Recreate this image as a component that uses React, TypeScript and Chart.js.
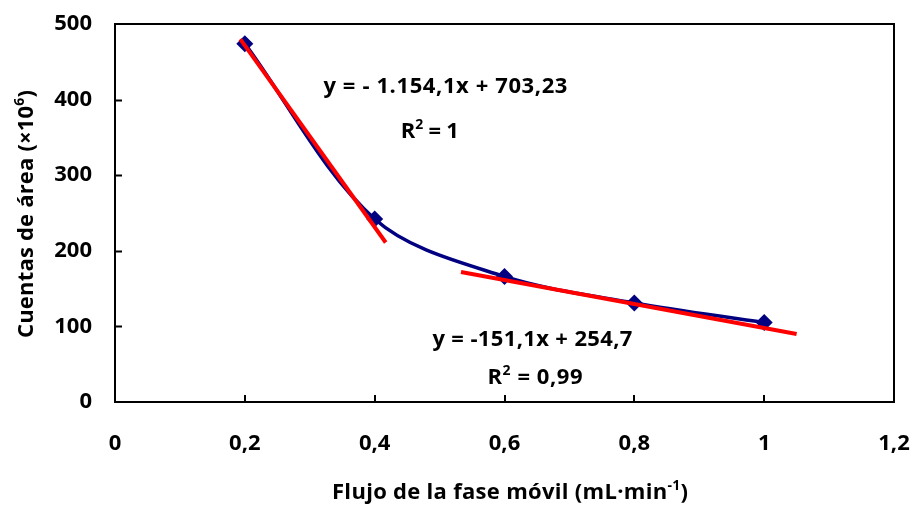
import React, { useEffect, useRef } from 'react';
import { Chart, registerables } from 'chart.js';

Chart.register(...registerables);

// ---- data ----
const flowRates = [0.2, 0.4, 0.6, 0.8, 1.0];
const areaCounts = [474, 242, 166, 131, 105];
const trend1X = [0.193, 0.417];
const trend1Y = [480, 211];
const trend2X = [0.533, 1.05];
const trend2Y = [172, 90];
const xMin = 0, xMax = 1.2, xStep = 0.2;
const yMin = 0, yMax = 500, yStep = 100;
const eq1Text = 'y = - 1.154,1x + 703,23';
const r2aText = '1';
const eq2Text = 'y = -151,1x + 254,7';
const r2bText = '0,99';
const xTitleMain = 'Flujo de la fase móvil (mL·min';
const xTitleSup = '-1';
const yTitleMain = 'Cuentas de área (×10';
const yTitleSup = '6';

// ---- styles ----
const FONT = '"Open Sans", Lato, sans-serif';
const NAVY = '#000080';
const RED = '#FF0000';

type Part = [string, boolean];

// draws mixed normal/superscript text centred on (x, y) baseline, spread to a target width
function drawRich(
  ctx: CanvasRenderingContext2D,
  parts: Part[],
  x: number,
  y: number,
  size: number,
  targetWidth: number,
  rotate = false
) {
  ctx.save();
  ctx.translate(x, y);
  if (rotate) ctx.rotate(-Math.PI / 2);
  ctx.fillStyle = '#000';
  ctx.textBaseline = 'alphabetic';
  ctx.textAlign = 'left';
  const supSize = Math.round(size * 0.62);
  const glyphs: { ch: string; sup: boolean; w: number }[] = [];
  parts.forEach(([t, sup]) => {
    ctx.font = `bold ${sup ? supSize : size}px ${FONT}`;
    for (const ch of Array.from(t)) glyphs.push({ ch, sup, w: ctx.measureText(ch).width });
  });
  const natural = glyphs.reduce((s, g) => s + g.w, 0);
  const ls = glyphs.length > 1 ? (targetWidth - natural) / (glyphs.length - 1) : 0;
  let cx = -targetWidth / 2;
  glyphs.forEach((g) => {
    ctx.font = `bold ${g.sup ? supSize : size}px ${FONT}`;
    ctx.fillText(g.ch, cx, g.sup ? -size * 0.42 : 0);
    cx += g.w + ls;
  });
  ctx.restore();
}

const decorPlugin = {
  id: 'decor',
  beforeDatasetsDraw(chart: any) {
    const { ctx, chartArea: a, scales } = chart;
    ctx.save();
    ctx.strokeStyle = '#000';
    ctx.lineWidth = 2;
    ctx.strokeRect(a.left, a.top, a.right - a.left, a.bottom - a.top);
    ctx.beginPath();
    for (let v = yMin + yStep; v < yMax; v += yStep) {
      const py = Math.round(scales.y.getPixelForValue(v)) + 0.5;
      ctx.moveTo(a.left, py);
      ctx.lineTo(a.left + 7, py);
    }
    for (let v = xMin + xStep; v < xMax - 1e-6; v += xStep) {
      const px = Math.round(scales.x.getPixelForValue(v));
      ctx.moveTo(px, a.bottom);
      ctx.lineTo(px, a.bottom - 7);
    }
    ctx.stroke();
    ctx.restore();
  },
  afterDraw(chart: any) {
    const { ctx, scales } = chart;
    const X = (v: number) => scales.x.getPixelForValue(v);
    const Y = (v: number) => scales.y.getPixelForValue(v);
    drawRich(ctx, [[eq1Text, false]], X(0.509), Y(408.5), 22, 244);
    drawRich(ctx, [['R', false], ['2', true], [' = ' + r2aText, false]], X(0.485), Y(349), 22, 58);
    drawRich(ctx, [[eq2Text, false]], X(0.643), Y(73.5), 22, 200);
    drawRich(ctx, [['R', false], ['2', true], [' = ' + r2bText, false]], X(0.647), Y(24), 22, 95);
    drawRich(ctx, [[xTitleMain, false], [xTitleSup, true], [')', false]], 510, 499, 22, 356);
    drawRich(ctx, [[yTitleMain, false], [yTitleSup, true], [')', false]], 33, 214, 22, 248, true);
  },
};

export default function App() {
  const ref = useRef<HTMLCanvasElement>(null);
  useEffect(() => {
    if (!ref.current) return;
    const chart = new Chart(ref.current, {
      type: 'scatter',
      data: {
        datasets: [
          {
            label: 'Área',
            data: flowRates.map((x, i) => ({ x, y: areaCounts[i] })),
            showLine: true,
            borderColor: NAVY,
            backgroundColor: NAVY,
            borderWidth: 3.5,
            tension: 0.33,
            pointStyle: 'rectRot',
            pointRadius: 8.5,
            pointBorderWidth: 0,
            order: 2,
          } as any,
          {
            label: 'Tendencia 1',
            data: trend1X.map((x, i) => ({ x, y: trend1Y[i] })),
            showLine: true,
            borderColor: RED,
            backgroundColor: RED,
            borderWidth: 4,
            pointRadius: 0,
            order: 1,
          } as any,
          {
            label: 'Tendencia 2',
            data: trend2X.map((x, i) => ({ x, y: trend2Y[i] })),
            showLine: true,
            borderColor: RED,
            backgroundColor: RED,
            borderWidth: 4,
            pointRadius: 0,
            order: 1,
          } as any,
        ],
      },
      options: {
        animation: false,
        responsive: false,
        devicePixelRatio: 1,
        layout: { padding: { left: 0, top: 24, right: 18, bottom: 0 } },
        plugins: { legend: { display: false }, tooltip: { enabled: false } },
        scales: {
          x: {
            type: 'linear',
            min: xMin,
            max: xMax,
            grid: { display: false, drawTicks: false },
            border: { display: false },
            ticks: {
              stepSize: xStep,
              padding: 29,
              color: '#000',
              font: { family: FONT, size: 22, weight: 'bold' },
              callback: (v: any) => String(Number(Number(v).toFixed(1))).replace('.', ','),
            },
            afterFit: (s: any) => {
              s.height = 103;
              s.paddingLeft = 0;
              s.paddingRight = 0;
            },
          },
          y: {
            type: 'linear',
            min: yMin,
            max: yMax,
            grid: { display: false, drawTicks: false },
            border: { display: false },
            ticks: {
              stepSize: yStep,
              padding: 23,
              color: '#000',
              font: { family: FONT, size: 22, weight: 'bold' },
            },
            afterFit: (s: any) => {
              s.width = 115;
              s.paddingTop = 0;
              s.paddingBottom = 0;
            },
          },
        },
      } as any,
      plugins: [decorPlugin],
    });
    return () => chart.destroy();
  }, []);
  return (
    <div style={{ position: 'absolute', left: 0, top: 0, width: 912, height: 505, background: '#fff' }}>
      <canvas ref={ref} width={912} height={505} style={{ width: 912, height: 505 }} />
    </div>
  );
}
